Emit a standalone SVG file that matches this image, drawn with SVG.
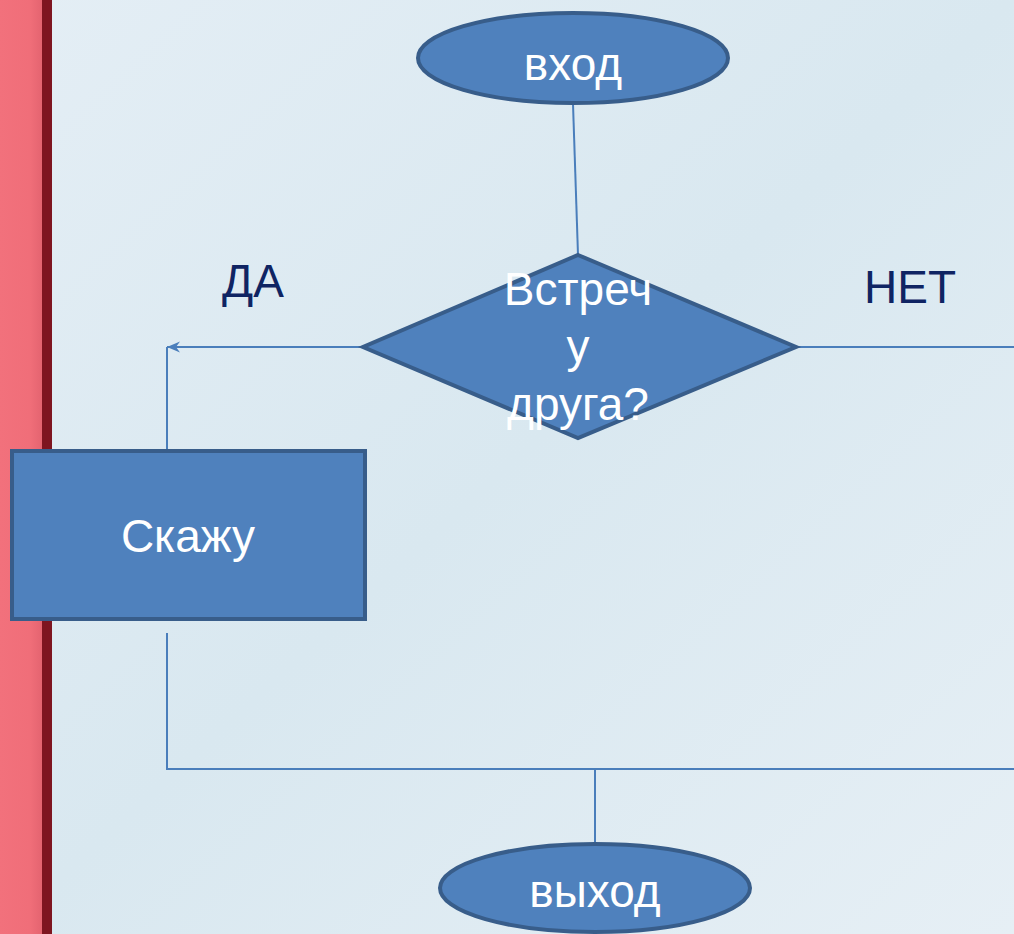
<svg xmlns="http://www.w3.org/2000/svg" width="1014" height="934" viewBox="0 0 1014 934">
<defs>
<linearGradient id="bg" x1="0" y1="0" x2="1" y2="1">
<stop offset="0" stop-color="#E4EEF5"/>
<stop offset="0.5" stop-color="#D9E8F0"/>
<stop offset="1" stop-color="#E6EFF5"/>
</linearGradient>
<linearGradient id="pink" x1="0" y1="0" x2="1" y2="0">
<stop offset="0" stop-color="#F2717C"/>
<stop offset="0.7" stop-color="#F06E79"/>
<stop offset="1" stop-color="#E3636F"/>
</linearGradient>
<marker id="arr" viewBox="0 0 14 12" refX="13" refY="6" markerWidth="14" markerHeight="12" markerUnits="userSpaceOnUse" orient="auto">
<path d="M13,6 L0,0.5 L4,6 L0,11.5 Z" fill="#4A7EBB"/>
</marker>
<style>
.shape{fill:#4F81BD;stroke:#385D8A;stroke-width:4}
.conn{fill:none;stroke:#4A7EBB;stroke-width:2}
.wt{fill:#FFFFFF;font-family:"Liberation Sans",Arial,sans-serif;font-size:46px;text-anchor:middle}
.lbl{fill:#0F2463;font-family:"Liberation Sans",Arial,sans-serif;font-size:46px;text-anchor:middle}
</style>
</defs>
<rect x="0" y="0" width="1014" height="934" fill="url(#bg)"/>
<rect x="0" y="0" width="43" height="934" fill="url(#pink)"/>
<rect x="42" y="0" width="10" height="934" fill="#7E1520"/>

<g id="connectors">
<line class="conn" x1="573" y1="104" x2="578" y2="255"/>
<line class="conn" x1="362" y1="347" x2="167" y2="347" marker-end="url(#arr)"/>
<line class="conn" x1="167" y1="347" x2="167" y2="449"/>
<line class="conn" x1="797" y1="347" x2="1014" y2="347"/>
<polyline class="conn" points="167,633 167,769 1014,769"/>
<line class="conn" x1="595" y1="769" x2="595" y2="843"/>
</g>

<g id="start">
<ellipse class="shape" cx="573" cy="58" rx="155" ry="45"/>
<text class="wt" x="573" y="80">вход</text>
</g>

<g id="decision">
<polygon class="shape" points="578,255 796,347 578,438 363,347"/>
<text class="wt" x="578" y="305">Встреч</text>
<text class="wt" x="578" y="362">у</text>
<text class="wt" x="578" y="420">друга?</text>
</g>

<g id="label-yes">
<text class="lbl" x="253" y="297">ДА</text>
</g>
<g id="label-no">
<text class="lbl" x="910" y="303">НЕТ</text>
</g>

<g id="action">
<rect class="shape" x="12" y="451" width="353" height="168"/>
<text class="wt" x="188" y="552">Скажу</text>
</g>

<g id="end">
<ellipse class="shape" cx="595" cy="888" rx="155" ry="44"/>
<text class="wt" x="595" y="907">выход</text>
</g>
</svg>
